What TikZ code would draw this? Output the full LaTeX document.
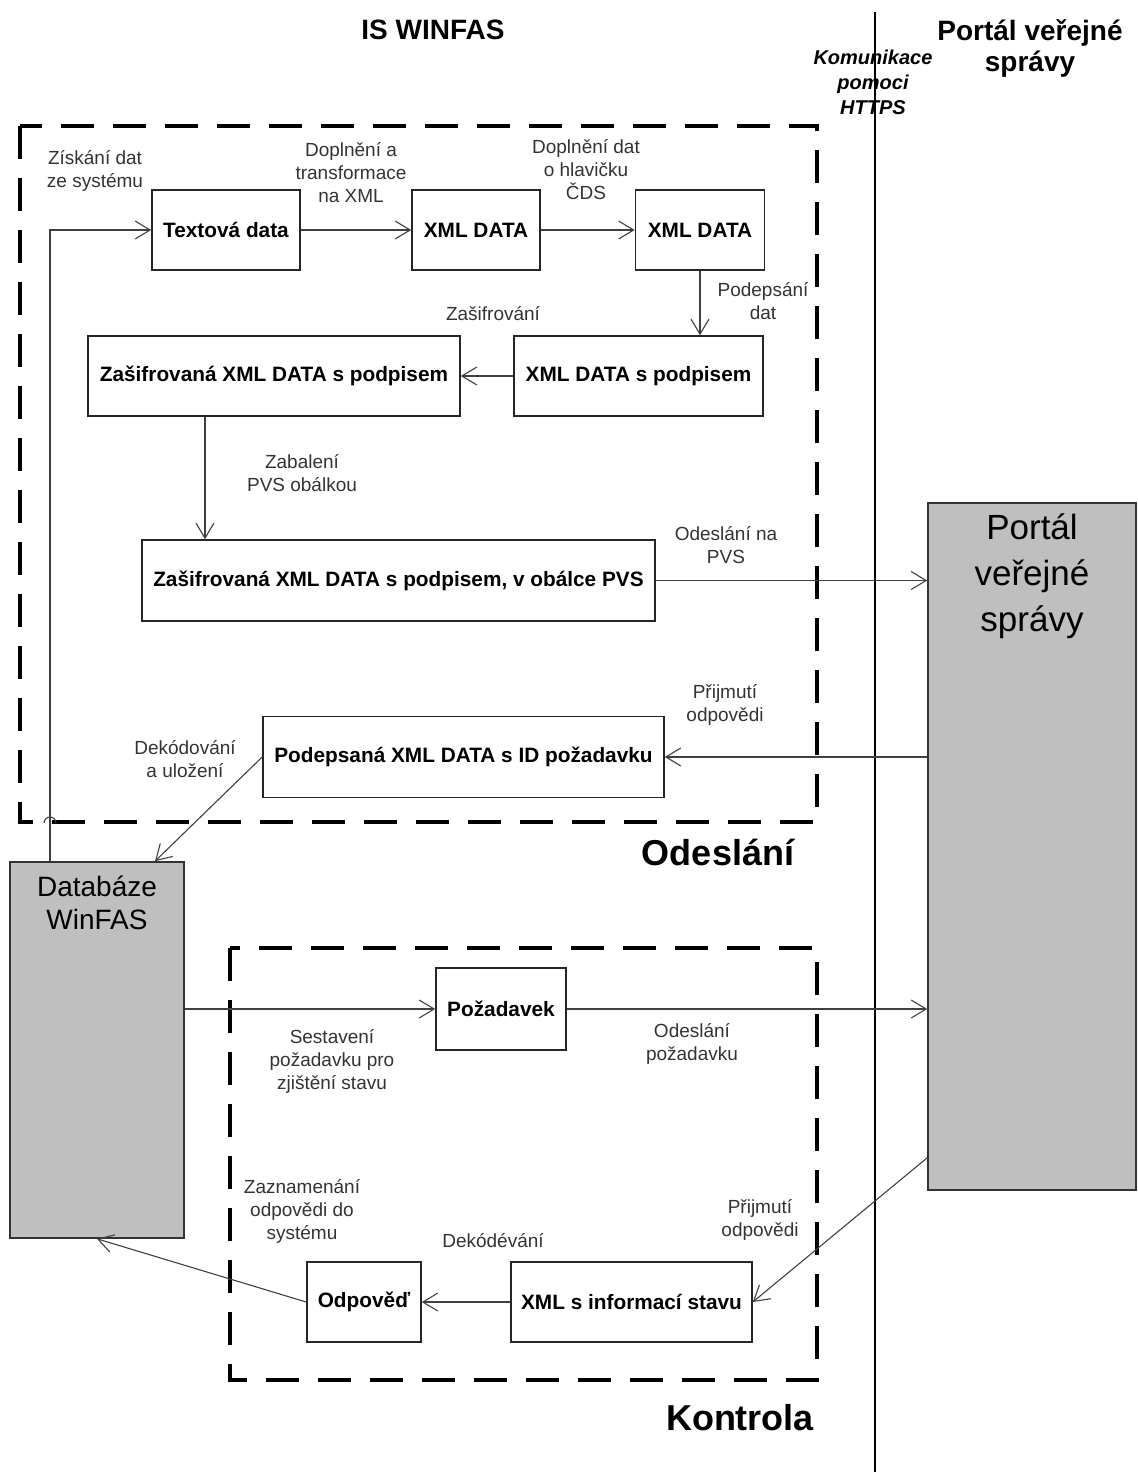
\documentclass[tikz,border=0pt]{standalone}
\usepackage{fontspec}
\setmainfont{Liberation Sans}
\usetikzlibrary{positioning, arrows.meta, calc}

\begin{document}
\begin{tikzpicture}[
  x=0.5pt, y=-0.5pt,
  >={Straight Barb[length=7.5pt,width=9pt]}
]
% -------------------- Styles --------------------
\tikzset{
  box/.style={
    draw=black!85, line width=0.8pt, fill=white,
    align=center, inner sep=2pt,
    font=\fontsize{10.4}{12.5}\selectfont\bfseries
  },
  store/.style={
    draw=black!80, line width=0.8pt, fill=black!25
  },
  lbl/.style={
    align=center, text=black!80, inner sep=0pt,
    font=\fontsize{9.5}{11.5}\selectfont
  },
  arrow/.style={->, draw=black!75, line width=0.55pt},
  area/.style={line width=2pt, dash pattern=on 16.5pt off 9.5pt},
  title/.style={align=center, inner sep=0pt,
    font=\fontsize{14}{15.5}\selectfont\bfseries},
  part/.style={inner sep=0pt, font=\fontsize{18}{21}\selectfont\bfseries}
}
\useasboundingbox (0,0) rectangle (1137,1472);

% -------------------- Headings --------------------
\node[title] (isTitle) at (433,30) {IS WINFAS};
\node[title] (pvsTitle) at (1030,48) {Portál veřejné\\správy};
\node[align=center, inner sep=0pt, font=\fontsize{10}{12.5}\selectfont\bfseries\itshape]
  (https) at (873,82) {Komunikace\\pomoci\\HTTPS};
\coordinate (sepTop) at (875,12);
\coordinate (sepBot) at (875,1472);
\draw[line width=0.7pt] (sepTop) -- (sepBot);

% -------------------- Areas --------------------
\draw[area] (20,126) rectangle (817,822);
\draw[area] (230,948) rectangle (817,1380);
\node[part] (sendTitle) at (718,852) {Odeslání};
\node[part] (checkTitle) at (740,1418) {Kontrola};

% -------------------- Stores --------------------
\node[store, minimum width=87pt, minimum height=188pt] (db) at (97,1050) {};
\node[align=center, inner sep=0pt, font=\fontsize{14}{16.5}\selectfont]
  (dbText) at (97,903) {Databáze\\WinFAS};
\node[store, minimum width=104pt, minimum height=343.5pt] (portal) at (1032,846.5) {};
\node[align=center, inner sep=0pt, font=\fontsize{17.5}{23}\selectfont]
  (portalText) at (1032,576) {Portál\\veřejné\\správy};

% -------------------- Sending (top) --------------------
\node[box, minimum width=74pt, minimum height=40pt] (txt) at (226,230) {Textová data};
\node[box, minimum width=64pt, minimum height=40pt] (xmlA) at (476,230) {XML DATA};
\node[box, minimum width=64.5pt, minimum height=40pt] (xmlB) at (700,230) {XML DATA};
\node[box, minimum width=124.5pt, minimum height=40pt] (xmlSig) at (638.5,376) {XML DATA s podpisem};
\node[box, minimum width=186pt, minimum height=40pt] (encSig) at (274,376) {Zašifrovaná XML DATA s podpisem};
\node[box, minimum width=256.5pt, minimum height=40.5pt] (envPVS) at (398.5,580.5) {Zašifrovaná XML DATA s podpisem, v obálce PVS};
\node[box, minimum width=200.5pt, minimum height=40.5pt] (signedID) at (463.5,757) {Podepsaná XML DATA s ID požadavku};

\node[lbl] (getData) at (95,171) {Získání dat\\ze systému};
\node[lbl] (transf) at (351,173) {Doplnění a\\transformace\\na XML};
\node[lbl] (header) at (586,170) {Doplnění dat\\o hlavičku\\ČDS};
\node[lbl] (sign) at (763,301) {Podepsání\\dat};
\node[lbl] (encrypt) at (493,314) {Zašifrování};
\node[lbl] (wrap) at (302,473) {Zabalení\\PVS obálkou};
\node[lbl] (sendPVS) at (726,545) {Odeslání na\\PVS};
\node[lbl] (recv1) at (725,705) {Přijmutí\\odpovědi};
\node[lbl] (decode) at (185,759) {Dekódování\\a uložení};

\coordinate (up) at (50,230);
\coordinate (drop) at (205,0);
\draw[arrow] (db.north -| up) -- (up) -- (txt.west);
\draw[draw=black!75, line width=0.55pt] (44,823) arc[start angle=180, end angle=360, radius=6];
\draw[arrow] (txt) -- (xmlA);
\draw[arrow] (xmlA) -- (xmlB);
\draw[arrow] (xmlB.south) -- (xmlSig.north -| xmlB.south);
\draw[arrow] (xmlSig) -- (encSig);
\draw[arrow] (encSig.south -| drop) -- (envPVS.north -| drop);
\draw[arrow] (envPVS.east) -- (portal.west |- envPVS.east);
\draw[arrow] (portal.west |- signedID.east) -- (signedID.east);
\draw[arrow] (signedID.west) -- ($(db.north)+(58,0)$);

% -------------------- Checking (bottom) --------------------
\node[box, minimum width=65pt, minimum height=41pt] (req) at (501,1009) {Požadavek};
\node[box, minimum width=120.5pt, minimum height=40pt] (xmlState) at (631.5,1302) {XML s informací stavu};
\node[box, minimum width=57pt, minimum height=40pt] (reply) at (364,1302) {Odpověď};

\node[lbl] (build) at (332,1061) {Sestavení\\požadavku pro\\zjištění stavu};
\node[lbl] (sendReq) at (692,1044) {Odeslání\\požadavku};
\node[lbl] (record) at (302,1211) {Zaznamenání\\odpovědi do\\systému};
\node[lbl] (decode2) at (493,1241) {Dekódévání};
\node[lbl] (recv2) at (760,1220) {Přijmutí\\odpovědi};

\draw[arrow] (db.east |- req.west) -- (req.west);
\draw[arrow] (req.east) -- (portal.west |- req.east);
\draw[arrow] ($(portal.south west)+(0,-33)$) -- (xmlState.east);
\draw[arrow] (xmlState) -- (reply);
\draw[arrow] (reply.west) -- (db.south);

\end{tikzpicture}
\end{document}
